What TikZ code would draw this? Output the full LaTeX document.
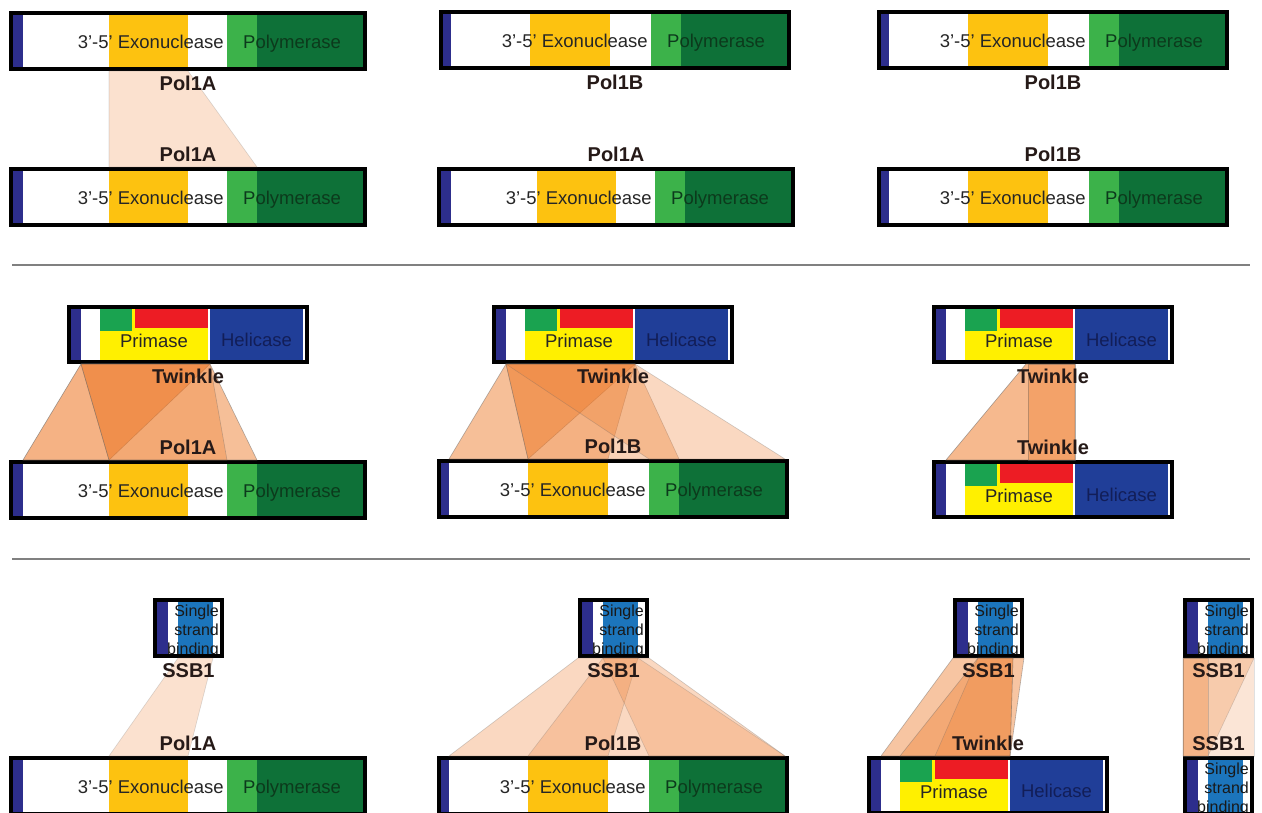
\documentclass[tikz,border=0pt]{standalone}
\usepackage{fontspec}
\setmainfont{Liberation Sans}
\usepackage{tikz}
\usetikzlibrary{positioning,calc}

\definecolor{ntblue}{RGB}{45,46,140}
\definecolor{exoyellow}{RGB}{253,194,16}
\definecolor{polgreen}{RGB}{60,178,74}
\definecolor{poldark}{RGB}{14,113,56}
\definecolor{poltext}{RGB}{12,58,28}
\definecolor{priyellow}{RGB}{255,240,0}
\definecolor{prigreen}{RGB}{26,163,80}
\definecolor{prired}{RGB}{237,28,36}
\definecolor{helblue}{RGB}{32,62,152}
\definecolor{heltext}{RGB}{18,30,88}
\definecolor{ssbblue}{RGB}{28,117,188}
\definecolor{linkorange}{RGB}{239,128,50}
\definecolor{nametext}{RGB}{38,26,24}

\begin{document}
\begin{tikzpicture}[
x=1pt, y=-1pt,
protbox/.style={
    draw=black,
    line width=4pt,
    inner sep=0pt,
    minimum height=56pt
},
domtext/.style={
    font=\fontsize{18.5}{20}\selectfont,
    inner sep=0pt,
    text=black!85
},
ssbtext/.style={
    font=\fontsize{16}{19}\selectfont,
    inner sep=0pt,
    align=right,
    text=black!90
},
protname/.style={
    font=\fontsize{20}{22}\selectfont\bfseries,
    inner sep=0pt,
    text=nametext
},
link/.style={
    fill=linkorange,
    fill opacity=#1,
    draw=black!60,
    draw opacity=#1,
    line width=0.6pt
},
rowline/.style={
    draw=black!50,
    line width=1.8pt
},
pola/.pic={
    \fill[ntblue] (4,4) rectangle (14,56);
    \fill[exoyellow] (100,4) rectangle (179,56);
    \fill[polgreen] (218,4) rectangle (248,56);
    \fill[poldark] (248,4) rectangle (354,56);
    \node[domtext, anchor=base east] at (215,37) {3'-5' Exonuclease};
    \node[domtext, anchor=base west, text=poltext] at (234,37) {Polymerase};
    \node[protbox, minimum width=354pt] (-box) at (179,30) {};
    \coordinate (-nt) at (14,30);
    \coordinate (-exo) at (100,30);
    \coordinate (-exoE) at (179,30);
    \coordinate (-pol) at (218,30);
    \coordinate (-polM) at (248,30);
    \coordinate (-end) at (354,30);
},
polb/.pic={
    \fill[ntblue] (4,4) rectangle (12,56);
    \fill[exoyellow] (91,4) rectangle (171,56);
    \fill[polgreen] (212,4) rectangle (242,56);
    \fill[poldark] (242,4) rectangle (348,56);
    \node[domtext, anchor=base east] at (209,37) {3'-5' Exonuclease};
    \node[domtext, anchor=base west, text=poltext] at (228,37) {Polymerase};
    \node[protbox, minimum width=348pt] (-box) at (176,30) {};
    \coordinate (-nt) at (12,30);
    \coordinate (-exo) at (91,30);
    \coordinate (-exoE) at (171,30);
    \coordinate (-pol) at (212,30);
    \coordinate (-polM) at (242,30);
    \coordinate (-end) at (348,30);
},
twinkle/.pic={
    \fill[ntblue] (4,4) rectangle (14,55);
    \fill[priyellow] (33,4) rectangle (141,55);
    \fill[prigreen] (33,4) rectangle (65,26);
    \fill[prired] (68,4) rectangle (141,23);
    \fill[helblue] (143,4) rectangle (236,55);
    \node[domtext, anchor=base] at (87,42) {Primase};
    \node[domtext, anchor=base, text=heltext] at (189.5,41) {Helicase};
    \node[protbox, minimum width=238pt, minimum height=55pt] (-box) at (121,29.5) {};
    \coordinate (-nt) at (14,30);
    \coordinate (-pri) at (33,30);
    \coordinate (-red) at (68,30);
    \coordinate (-hel) at (143,30);
    \coordinate (-end) at (236,30);
},
ssb/.pic={
    \fill[ntblue] (4,4) rectangle (15,56);
    \fill[ssbblue] (25,4) rectangle (60,56);
    \begin{scope}
        \clip (4,4) rectangle (67,56);
        \node[ssbtext, anchor=north east] at (66,6.5) {Single\\strand\\binding};
    \end{scope}
    \node[protbox, minimum width=67pt] (-box) at (35.5,30) {};
    \coordinate (-nt) at (15,30);
    \coordinate (-ssb) at (25,30);
    \coordinate (-ssbE) at (60,30);
    \coordinate (-end) at (67,30);
}
]

\useasboundingbox (0,0) rectangle (1262,812);
\clip (0,0) rectangle (1262,812);
\fill[white] (0,0) rectangle (1262,812);

% Row 1: polymerase pairs
\pic (t11) at (9,11) {pola};
\pic (b11) at (9,167) {pola};
\pic (t12) at (439,10) {polb};
\pic (b12) at (437,167) {pola};
\pic (t13) at (877,10) {polb};
\pic (b13) at (877,167) {polb};

\draw[rowline] (12,265) -- (1250,265);

% Row 2: Twinkle pairs
\pic (t21) at (67,305) {twinkle};
\pic (b21) at (9,460) {pola};
\pic (t22) at (492,305) {twinkle};
\pic (b22) at (437,459) {polb};
\pic (t23) at (932,305) {twinkle};
\pic (b23) at (932,460) {twinkle};

\draw[rowline] (12,559) -- (1250,559);

% Row 3: SSB1 pairs
\pic (t31) at (153,598) {ssb};
\pic (b31) at (9,756) {pola};
\pic (t32) at (578,598) {ssb};
\pic (b32) at (437,756) {polb};
\pic (t33) at (953,598) {ssb};
\pic (b33) at (867,756) {twinkle};
\pic (t34) at (1183,598) {ssb};
\pic (b34) at (1183,756) {ssb};

% Links
\draw[link=0.23] (t11-exo |- t11-box.south) -- (t11-exoE |- t11-box.south) -- (b11-polM |- b11-box.north) -- (b11-exo |- b11-box.north) -- cycle;

\draw[link=0.6] (t21-nt |- t21-box.south) -- (t21-hel |- t21-box.south) -- (b21-exo |- b21-box.north) -- (b21-nt |- b21-box.north) -- cycle;
\draw[link=0.5] (t21-nt |- t21-box.south) -- (t21-hel |- t21-box.south) -- (b21-polM |- b21-box.north) -- (b21-exo |- b21-box.north) -- cycle;
\draw[link=0.35] (t21-nt |- t21-box.south) -- (t21-hel |- t21-box.south) -- (b21-pol |- b21-box.north) -- (b21-exo |- b21-box.north) -- cycle;

\draw[link=0.5] (t22-nt |- t22-box.south) -- (t22-hel |- t22-box.south) -- (b22-exo |- b22-box.north) -- (b22-nt |- b22-box.north) -- cycle;
\draw[link=0.4] (t22-nt |- t22-box.south) -- (t22-hel |- t22-box.south) -- (b22-exoE |- b22-box.north) -- (b22-exo |- b22-box.north) -- cycle;
\draw[link=0.35] (t22-nt |- t22-box.south) -- (t22-hel |- t22-box.south) -- (b22-polM |- b22-box.north) -- (b22-exo |- b22-box.north) -- cycle;
\draw[link=0.3] (t22-nt |- t22-box.south) -- (t22-hel |- t22-box.south) -- (b22-end |- b22-box.north) -- (b22-pol |- b22-box.north) -- cycle;

\draw[link=0.55] ($(t23-box.south west)+(94,0)$) -- (t23-hel |- t23-box.south) -- (b23-hel |- b23-box.north) -- (b23-nt |- b23-box.north) -- cycle;
\draw[link=0.4] ($(t23-box.south west)+(96,0)$) -- (t23-hel |- t23-box.south) -- (b23-hel |- b23-box.north) -- ($(b23-box.north west)+(96,0)$) -- cycle;

\draw[link=0.23] (t31-ssb |- t31-box.south) -- (t31-ssbE |- t31-box.south) -- (b31-exoE |- b31-box.north) -- (b31-exo |- b31-box.north) -- cycle;

\draw[link=0.3] (t32-box.south west) -- (t32-box.south east) -- (b32-end |- b32-box.north) -- (b32-nt |- b32-box.north) -- cycle;
\draw[link=0.25] (t32-ssb |- t32-box.south) -- (t32-ssbE |- t32-box.south) -- (b32-exoE |- b32-box.north) -- (b32-exo |- b32-box.north) -- cycle;
\draw[link=0.25] (t32-ssb |- t32-box.south) -- (t32-ssbE |- t32-box.south) -- (b32-end |- b32-box.north) -- (b32-pol |- b32-box.north) -- cycle;

\draw[link=0.45] (t33-box.south west) -- (t33-box.south east) -- (b33-hel |- b33-box.north) -- (b33-nt |- b33-box.north) -- cycle;
\draw[link=0.4] (t33-ssb |- t33-box.south) -- (t33-ssbE |- t33-box.south) -- (b33-hel |- b33-box.north) -- (b33-pri |- b33-box.north) -- cycle;
\draw[link=0.3] (t33-ssb |- t33-box.south) -- (t33-ssbE |- t33-box.south) -- (b33-hel |- b33-box.north) -- (b33-red |- b33-box.north) -- cycle;

\draw[link=0.2] (t34-box.south west) -- (t34-box.south east) -- (b34-box.north east) -- (b34-box.north west) -- cycle;
\draw[link=0.25] (t34-box.south west) -- (t34-box.south east) -- (b34-ssb |- b34-box.north) -- (b34-box.north west) -- cycle;
\draw[link=0.3] (t34-box.south west) -- (t34-ssb |- t34-box.south) -- (b34-ssb |- b34-box.north) -- (b34-box.north west) -- cycle;

% Names
\node[protname, below=5pt of t11-box] (t11l) {Pol1A};
\node[protname, above=5pt of b11-box] (b11l) {Pol1A};
\node[protname, below=5pt of t12-box] (t12l) {Pol1B};
\node[protname, above=5pt of b12-box] (b12l) {Pol1A};
\node[protname, below=5pt of t13-box] (t13l) {Pol1B};
\node[protname, above=5pt of b13-box] (b13l) {Pol1B};

\node[protname, below=5pt of t21-box] (t21l) {Twinkle};
\node[protname, above=5pt of b21-box] (b21l) {Pol1A};
\node[protname, below=5pt of t22-box] (t22l) {Twinkle};
\node[protname, above=5pt of b22-box] (b22l) {Pol1B};
\node[protname, below=5pt of t23-box] (t23l) {Twinkle};
\node[protname, above=5pt of b23-box] (b23l) {Twinkle};

\node[protname, below=5pt of t31-box] (t31l) {SSB1};
\node[protname, above=5pt of b31-box] (b31l) {Pol1A};
\node[protname, below=5pt of t32-box] (t32l) {SSB1};
\node[protname, above=5pt of b32-box] (b32l) {Pol1B};
\node[protname, below=5pt of t33-box] (t33l) {SSB1};
\node[protname, above=5pt of b33-box] (b33l) {Twinkle};
\node[protname, below=5pt of t34-box] (t34l) {SSB1};
\node[protname, above=5pt of b34-box] (b34l) {SSB1};

\end{tikzpicture}
\end{document}
